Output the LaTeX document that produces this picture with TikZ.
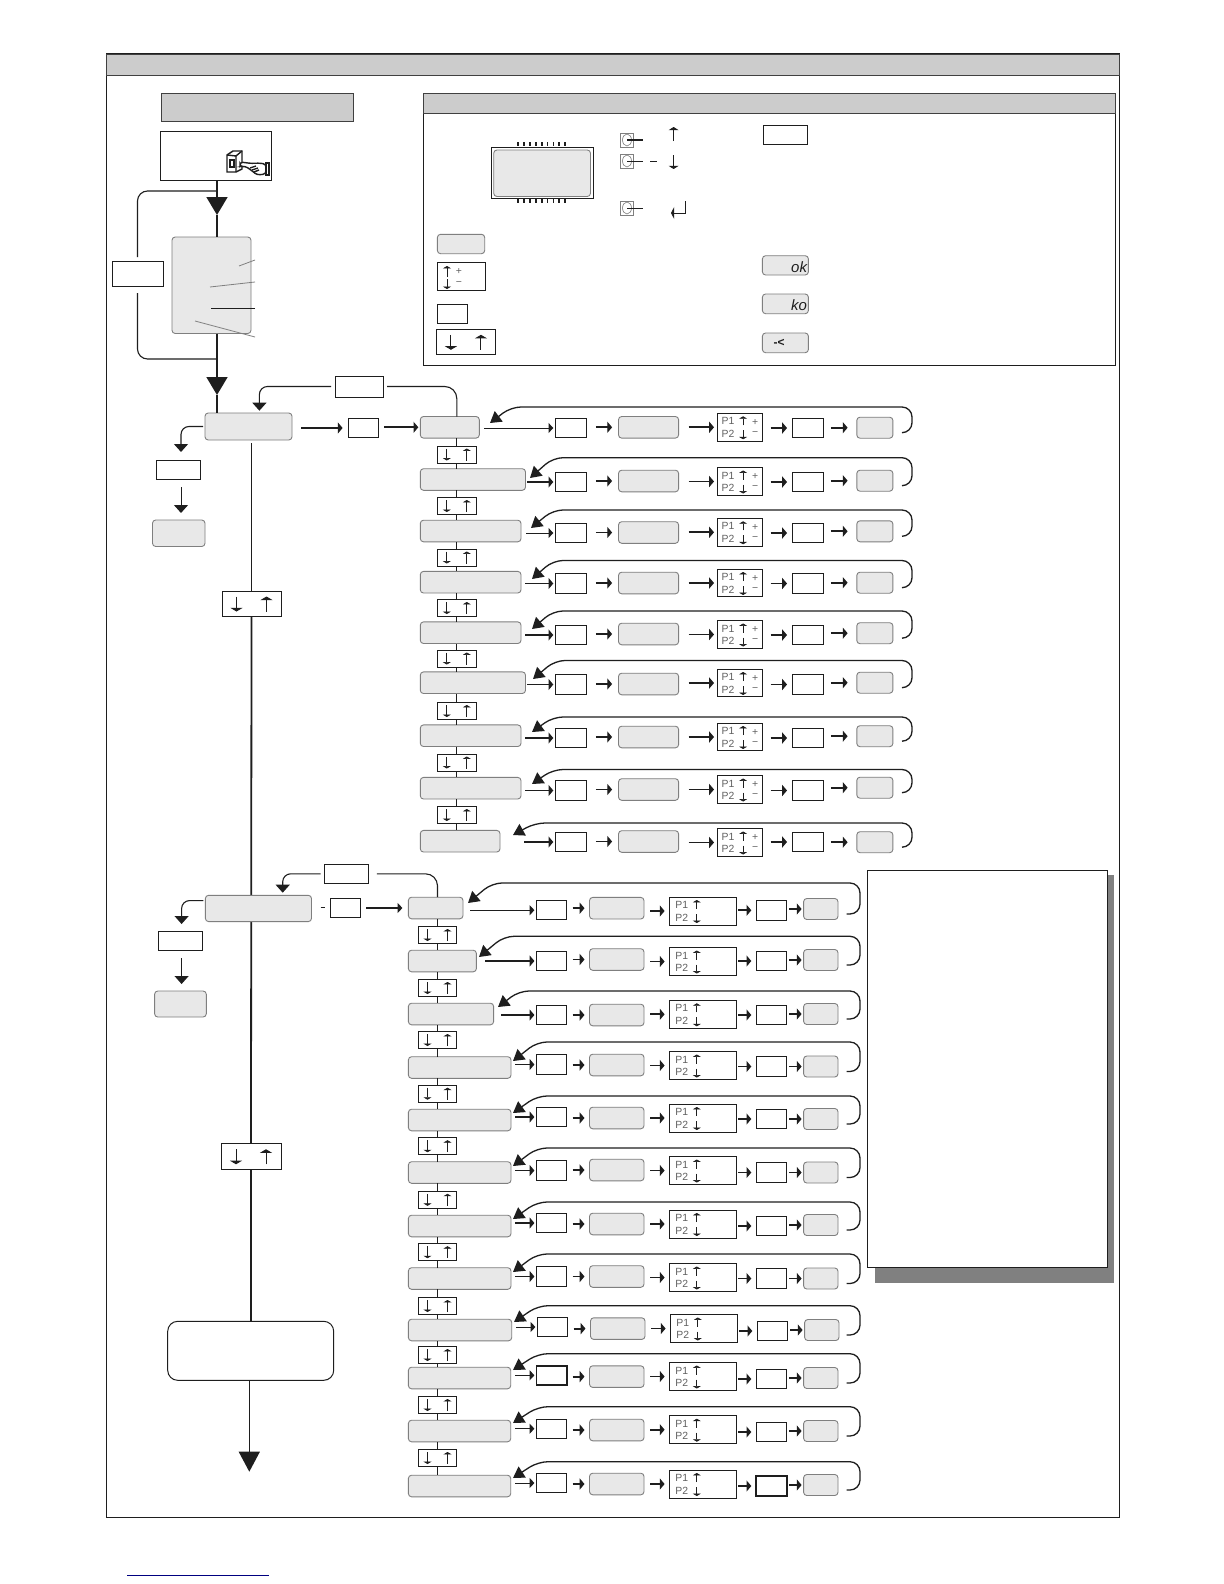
\documentclass[tikz,border=0pt]{standalone}
\usepackage{fontspec}
\setmainfont{Liberation Sans}
\usetikzlibrary{arrows.meta,calc,shapes.geometric}
\definecolor{hdr}{HTML}{CCCCCC}
\definecolor{lcd}{HTML}{E8E8E8}
\definecolor{ink}{HTML}{1E1E1E}
\definecolor{edgeg}{HTML}{7F7F7F}
\definecolor{shad}{HTML}{808080}
\newcommand{\bx}[6]{%
  \pgfmathsetmacro\bw{((#5)-(#3))*0.5}%
  \pgfmathsetmacro\bh{((#6)-(#4))*0.5}%
  \node[#2,minimum width=\bw pt,minimum height=\bh pt] (#1) at ({((#3)+(#5))/2},{((#4)+(#6))/2}) {};}
\tikzset{
  baseb/.style={inner sep=0pt,outer sep=0pt},
  hdrbox/.style={baseb,draw=ink!85,fill=hdr,line width=.45pt},
  wbox/.style={baseb,draw=ink,fill=white,line width=.5pt},
  wthick/.style={baseb,draw=ink,fill=white,line width=.9pt},
  gbox/.style={baseb,draw=edgeg,fill=lcd,line width=.45pt,rounded corners=1.6pt},
  btn/.style={baseb,draw=edgeg,fill=white,line width=.3pt},
  lnk/.style={draw=ink,line width=.55pt},
  mainln/.style={draw=ink,line width=.9pt},
  thinar/.style={draw=ink,line width=.5pt,-{Triangle[length=2.4pt,width=5pt]}},
  thkar/.style={draw=ink,line width=.95pt,-{Triangle[length=2.4pt,width=5.5pt]}},
  fbln/.style={draw=ink,line width=.65pt,rounded corners=5pt,-{Triangle[length=5.5pt,width=6.5pt]}},
  smallhead/.style={draw=ink,line width=.55pt,rounded corners=4pt,-{Triangle[length=4pt,width=7pt]}},
  bigtri/.style={draw=ink,line width=.9pt,-{Triangle[length=9pt,width=10.5pt]}},
  upar/.style={draw=ink,line width=.4pt,-{Triangle[length=1.2pt,width=4pt]}},
  ptxt/.style={inner sep=0pt,outer sep=0pt,text=ink!70,font=\fontsize{5.2}{6}\selectfont},
  pplus/.pic={
    \node[ptxt] (-a) at (-12,-6) {P1};
    \node[ptxt] (-b) at (-12,6.5) {P2};
    \node[ptxt] (-c) at (15,-5) {+};
    \node[ptxt] (-d) at (15,6.5) {−};
    \draw[upar] (3,-2) -- (3,-11);
    \draw[upar] (3,3) -- (3,12);
  },
  pplain/.pic={
    \node[ptxt] (-a) at (-21,-6) {P1};
    \node[ptxt] (-b) at (-21,6.5) {P2};
    \draw[upar] (-6,-2) -- (-6,-11);
    \draw[upar] (-6,3) -- (-6,12);
  },
  dnupS/.pic={
    \draw[upar] (-10,-6) -- (-10,6);
    \draw[upar] (10,6) -- (10,-6);
  },
  dnupL/.pic={
    \draw[upar,line width=.5pt,-{Triangle[length=1.8pt,width=6pt]}] (-15,-7) -- (-15,8);
    \draw[upar,line width=.5pt,-{Triangle[length=1.8pt,width=6pt]}] (15,8) -- (15,-7);
  },
}
\newcommand\rowbody{%
  \bx{r\i}{gbox}{\rl}{\rc-10.8}{\rr}{\rc+10.8}
  \bx{b\i}{\bs}{\bl+\dx}{\bc-9.7}{\br+\dx}{\bc+9.7}
  \bx{g\i}{gbox}{\gl+\dx}{\gc-10.8}{\gr+\dx}{\gc+10.8}
  \bx{p\i}{wbox}{\pl+\dx}{\pc-\ph}{\pr+\dx}{\pc+\ph}
  \bx{q\i}{\qs}{\ql+\dx}{\qc-9.7}{\qr+\dx}{\qc+9.7}
  \bx{e\i}{gbox}{\el+\dx}{\ec-10.5}{\er+\dx}{\ec+10.5}
  \pic (pi\i) at (p\i.center) {\pp};
  \coordinate (in\i) at (\ix,\bc);
  \draw[\iw,shorten >=1pt] (in\i) -- (b\i.west);
  \draw[thkar,sbg] (b\i.east |- g\i.west) -- (g\i.west);
  \draw[thkar,sgp] (g\i.east |- p\i.west) -- (p\i.west);
  \draw[thkar,spq] (p\i.east |- q\i.west) -- (q\i.west);
  \draw[thkar,sqe] (q\i.east |- e\i.west) -- (e\i.west);
  \coordinate (fs\i) at (\sx,\ec+5);
  \coordinate (tp\i) at (\tx,\ty);
  \draw[fbln] (fs\i) -- (\rx,\ec+5) -- (\rx,\ft) -- (\cx,\ft) -- (tp\i);
}
\begin{document}
\begin{tikzpicture}[x=0.5pt,y=-0.5pt]
\useasboundingbox (0,0) rectangle (1224,1584);
% outer frame
\bx{frame}{wbox}{106}{54}{1119}{1517}
\bx{head}{hdrbox}{106}{54}{1119}{75}
\bx{sub}{hdrbox}{161}{93}{353}{121}
\bx{start}{wbox}{160}{131.5}{271}{180}
% hand icon
\begin{scope}[draw=ink,line width=.7pt,fill=white]
  \filldraw (227,155) -- (233,151) -- (242,151) -- (242,169) -- (236,172) -- (227,172) -- cycle;
  \draw (227,155) -- (236,156) -- (242,151) (236,156) -- (236,172);
  \draw (230,160) rectangle (234,167);
  \filldraw[rounded corners=1.5pt] (240,162) -- (252,163.5) -- (258,163) -- (266,164) -- (266,174) -- (257,175) -- (251,170) -- (245,166) -- (240,167) -- cycle;
  \draw (250,168) -- (256,166) (252,170) -- (258,168) (254,172) -- (259,170);
  \draw[line width=.9pt] (266,163) rectangle (269,175);
\end{scope}
% upper left flow
\bx{lcdA}{gbox}{172}{237}{251}{333.5}
\bx{loop}{wbox}{112}{261}{163}{286}
\coordinate (t1) at (217,215);
\coordinate (t2) at (217,395);
\coordinate (c1) at (217,191);
\coordinate (c2) at (217,359);
\bx{ma}{gbox}{205}{413}{292}{440}
\draw[bigtri] (start.south -| t1) -- (t1);
\draw[mainln] (t1) -- (lcdA.north -| t1);
\draw[mainln] (lcdA.south -| t2) -- (c2);
\draw[bigtri] (c2) -- (t2);
\draw[mainln] (t2) -- (ma.north -| t2);
\draw[lnk,rounded corners=5pt,shorten <=2pt] (loop.north) -- (loop.north |- c1) -- (c1);
\draw[lnk,rounded corners=5pt,shorten <=3.5pt] (loop.south) -- (loop.south |- c2) -- (c2);
\coordinate (s1) at (255,260); \coordinate (e1) at (239,266);
\coordinate (s2) at (255,282); \coordinate (e2) at (210,287);
\coordinate (s3) at (255,308); \coordinate (e3) at (211,308);
\coordinate (s4) at (255,337); \coordinate (e4) at (195,321);
\draw[edgeg,line width=.4pt] (s1) -- (e1) (s2) -- (e2) (s4) -- (e4);
\draw[ink,line width=.4pt] (s3) -- (e3);
% legend panel
\bx{panel}{wbox}{423.5}{93.5}{1115}{365.5}
\bx{phead}{hdrbox}{423.5}{93.5}{1115}{113.5}
\bx{disp}{wbox}{491.4}{147.3}{593}{198.3}
\bx{dispin}{gbox}{493.7}{150}{590.5}{196.5}
\foreach \k in {0,...,8} {
  \draw[ink,line width=.9pt] ({518+\k*5.9},142) -- ({518+\k*5.9},146);
  \draw[ink,line width=.9pt] ({518+\k*5.9},199) -- ({518+\k*5.9},203);
}
\foreach \n/\y/\e in {k1/140/643,k2/161/643,k3/208/643} {
  \bx{\n}{btn}{620.4}{\y-7}{633.6}{\y+7}
  \node[baseb,draw=edgeg,line width=.3pt,ellipse,minimum width=4.5pt,minimum height=6pt] (\n c) at (\n.center) {};
  \coordinate (\n e) at (\e,\y);
  \draw[ink,line width=.5pt] (\n.center) -- (\n e);
}
\coordinate (k2a) at (650,161); \coordinate (k2b) at (657,161);
\draw[ink,line width=.5pt] (k2a) -- (k2b);
\draw[upar,-{Triangle[length=1.6pt,width=5pt]}] (673.6,141) -- (673.6,127);
\draw[upar,-{Triangle[length=1.6pt,width=5pt]}] (673.6,155) -- (673.6,169);
\draw[upar,line width=.5pt,-{Triangle[length=1.6pt,width=6pt]}] (685,201) |- (671,213);
\bx{lgW}{wbox}{763.3}{125.3}{807}{144.7}
\bx{lgG}{gbox}{437.4}{234.3}{484.7}{253.7}
\bx{lgP}{wbox}{437.4}{262.7}{485.7}{290.3}
\draw[upar] (447,277) -- (447,266);
\draw[upar] (447,279) -- (447,289);
\node[ptxt] (lgplus) at (459,271) {+};
\node[ptxt] (lgminus) at (459,284) {−};
\bx{lgS}{wbox}{437.4}{304.3}{467.7}{323.7}
\bx{lgA}{wbox}{436.5}{329.3}{495.4}{354.3}
\pic at (lgA.center) {dnupL};
\bx{lgOk}{gbox}{762.4}{255.7}{808.4}{275}
\bx{lgKo}{gbox}{762.4}{294}{808.4}{313.7}
\bx{lgEr}{gbox}{762.4}{333}{808.4}{352.7}
\node[baseb,anchor=east,text=ink,font=\fontsize{7.5}{8}\selectfont\itshape] (okT) at (807,267) {ok};
\node[baseb,anchor=east,text=ink,font=\fontsize{7.5}{8}\selectfont\itshape] (koT) at (807,305.5) {ko};
\node[baseb,anchor=center,text=ink,font=\fontsize{6}{7}\selectfont\bfseries] (erT) at (779,342.5) {-<};
% flow A frame
\bx{fa}{wbox}{335}{376}{383}{397}
\bx{la}{wbox}{348.6}{418.3}{378.3}{437.7}
\bx{ba}{wbox}{156.5}{460}{200}{479}
\bx{ca}{gbox}{152.5}{520}{205}{546.5}
\bx{abA}{wbox}{222}{591}{281}{616}
\pic at (abA.center) {dnupL};
% flow B frame
\coordinate (mlt) at (251.5,443);
\bx{abB}{wbox}{221}{1143}{281}{1169.5}
\bx{endbox}{baseb,draw=ink,fill=white,line width=.5pt,rounded corners=5pt}{167.7}{1321.3}{333.7}{1380.3}
\draw[mainln] (mlt) -- (abA.north);
\draw[mainln] (abA.south) -- (abB.north);
\draw[mainln] (abB.south) -- (abB.south |- endbox.north);
\bx{mb}{gbox}{205.4}{895.3}{311.5}{921.6}
\bx{fb}{wbox}{324.6}{864.3}{368.8}{883.3}
\bx{lb}{wbox}{330.6}{898.3}{360.4}{917.3}
\bx{bb}{wbox}{158.4}{931.3}{202.6}{950.3}
\bx{cb}{gbox}{154.6}{991}{206.3}{1017}
\pic at (abB.center) {dnupL};
\coordinate (te) at (249.3,1471.7);
\draw[draw=ink,line width=.55pt,-{Triangle[length=10pt,width=10.5pt]}] (endbox.south -| te) -- (te);
% branches
\coordinate (ta) at (181,452);
\coordinate (tb) at (181.6,924);
\coordinate (ta2) at (259.4,410.7);
\coordinate (tb2) at (282.7,892.7);
\draw[smallhead,shorten <=1pt] (ma.west) -| (ta);
\draw[smallhead,shorten <=1pt] ($(mb.north west)!.2!(mb.south west)$) -| (tb);
\draw[thinar,-{Triangle[length=4pt,width=7pt]},shorten <=4pt,shorten >=3.5pt] (ba.south -| ta) -- (ca.north -| ta);
\draw[thinar,-{Triangle[length=4pt,width=7pt]},shorten <=4pt,shorten >=3.5pt] (bb.south -| tb) -- (cb.north -| tb);
\draw[thkar,shorten <=4.5pt,shorten >=3pt] (ma.east |- la.west) -- (la.west);
\draw[lnk,shorten <=4.5pt,shorten >=2.8pt] (mb.east |- lb.west) -- (lb.west);
% rows A
\begin{scope}[sbg/.style={shorten <=4.5pt,shorten >=3.2pt},sgp/.style={shorten <=5pt,shorten >=1.8pt},spq/.style={shorten <=4pt,shorten >=2.8pt},sqe/.style={shorten <=3.6pt,shorten >=4.6pt}]
\def\rl{420.3}\def\bl{555.3}\def\br{586.8}\def\gl{618.5}\def\gr{678.6}\def\pl{717.6}\def\pr{762.6}
\def\ql{792.6}\def\qr{823.7}\def\el{856.8}\def\er{892.9}\def\sx{902}\def\rx{912}\def\ph{13.7}\def\pp{pplus}\def\dx{0}
\def\bs{wbox}\def\qs{wbox}
\foreach \i/\rr/\rc/\bc/\gc/\pc/\qc/\ec/\ft/\tx/\ty/\cx/\ix/\iw in {
 a0/479.3/427.3/428/427.3/427.3/428/427.7/407/490/423/511/484/thinar,
 a1/525.5/479.5/482/481/481.5/482/480.7/457.7/530/478/553/527/thkar,
 a2/521/531/533/532.5/532.3/533/531.3/510/531/528/553/526/thinar,
 a3/521/582.2/583.5/583/583/583.5/582.7/560.5/532/579/553/525/thkar,
 a4/521/632.7/635/634/634.5/635/633.2/611/532/629/553/525/thkar,
 a5/525.5/682.7/684.5/684/683/684.5/682.7/660.5/533/679/555/527/thkar,
 a6/521/735.7/738/737/737/738/736.2/717/532/732/553/525/thkar,
 a7/521/788.2/790.5/789.5/789.5/790.5/787.7/769.5/532/784/553/525/thkar,
 a8/500/841.2/842/841.5/842.5/842/842.2/823/513/835/535/524/thkar%
}{\rowbody}
\end{scope}
% rows B
\begin{scope}[sbg/.style={shorten <=3pt,shorten >=2.5pt},sgp/.style={shorten <=3pt,shorten >=2.5pt},spq/.style={shorten <=1.2pt,shorten >=2.5pt},sqe/.style={shorten <=1.2pt,shorten >=1pt}]
\def\rl{408.4}\def\bl{536.4}\def\br{566.7}\def\gl{589.5}\def\gr{644}\def\pl{669.6}\def\pr{736}
\def\ql{756.3}\def\qr{786.6}\def\el{803.6}\def\er{838}\def\sx{846.5}\def\rx{860}\def\ph{14}\def\pp{pplain}
\foreach \i/\rr/\rc/\bc/\gc/\pc/\qc/\ec/\ft/\tx/\ty/\cx/\ix/\iw/\dx/\bs/\qs in {
 b0/463/908/910.2/908.2/911/910.3/909/883/468/903/492/470/thinar/0/wbox/wbox,
 b1/476.4/961/961/959.5/961.5/961/960/936.3/479/957/504/485/thkar/0/wbox/wbox,
 b2/493.6/1014/1015/1015/1014.3/1015/1014/991/498/1007/519/501/thkar/0/wbox/wbox,
 b3/511/1067.5/1064.5/1065/1065.5/1066.5/1066.5/1042/513/1061/537/515/thkar/0/wbox/wbox,
 b4/511/1120/1117/1118/1118/1119/1119/1096/513/1113/537/515/thkar/0/wbox/wbox,
 b5/511/1172.5/1170.5/1170/1170.5/1172.5/1172.5/1148/513/1166/537/515/thkar/0/wbox/wbox,
 b6/511/1226/1223/1224/1224/1226/1225/1202/513/1219/537/515/thkar/0/wbox/wbox,
 b7/511/1278.5/1276.5/1276.5/1277.5/1278.5/1278.5/1254/513/1272/537/515/thkar/0/wbox/wbox,
 b8/511.7/1330/1327/1328.6/1328.5/1331/1330/1305.7/514/1322/538/516/thinar/1/wbox/wbox,
 b9/510.7/1378/1375.3/1376.6/1376.5/1379/1378/1353.7/513/1370/538/515/thinar/0/wthick/wbox,
 b10/510.7/1431/1428.7/1430/1429.7/1432/1431/1406.7/513/1423/538/515/thinar/0/wbox/wbox,
 b11/510.7/1486/1483/1484/1484/1486/1485/1461.7/513/1478/538/515/thinar/0/wbox/wthick%
}{\rowbody}
\end{scope}
% down-up boxes between rows
\foreach \i/\n/\y in {a0/a1/454.5,a1/a2/506,a2/a3/557.5,a3/a4/608,a4/a5/658.5,a5/a6/711,a6/a7/762.5,a7/a8/815}{
  \bx{u\i}{wbox}{437.3}{\y-8.5}{476.3}{\y+8.5}
  \pic at (u\i.center) {dnupS};
  \draw[lnk] (u\i.north) -- (u\i.north |- r\i.south);
  \draw[lnk] (u\i.south) -- (u\i.south |- r\n.north);
}
\foreach \i/\n/\y in {b0/b1/935,b1/b2/988,b2/b3/1040,b3/b4/1093.7,b4/b5/1146.2,b5/b6/1199.8,b6/b7/1252.2,b7/b8/1306,b8/b9/1355,b9/b10/1405,b10/b11/1458}{
  \bx{u\i}{wbox}{418.5}{\y-8.5}{456.5}{\y+8.5}
  \pic at (u\i.center) {dnupS};
  \draw[lnk] (u\i.north) -- (u\i.north |- r\i.south);
  \draw[lnk] (u\i.south) -- (u\i.south |- r\n.north);
}
% first rows from selector
\draw[thkar,shorten <=3pt,shorten >=1pt] (la.east |- ra0.west) -- (ra0.west);
\draw[thinar,line width=.7pt,shorten <=3pt,shorten >=3pt] (lb.east |- rb0.west) -- (rb0.west);
% feedback to selector
\draw[lnk,rounded corners=6pt,shorten >=2pt] (ua0.north |- ra0.north) |- (fa.east);
\draw[smallhead,shorten <=2pt] (fa.west) -| (ta2);
\draw[lnk,rounded corners=6pt,shorten >=4pt] (ub0.north |- rb0.north) |- (fb.east);
\draw[smallhead,shorten <=2pt] (fb.west) -| (tb2);
% note box
\bx{noteS}{baseb,fill=shad}{874.5}{875}{1114}{1282.5}
\bx{note}{wbox}{867.5}{870.5}{1107}{1267.5}
% footer rule
\coordinate (fl) at (127,1575); \coordinate (fr) at (269,1575);
\draw[color=blue!50!black,line width=.5pt] (fl) -- (fr);
\end{tikzpicture}
\end{document}
